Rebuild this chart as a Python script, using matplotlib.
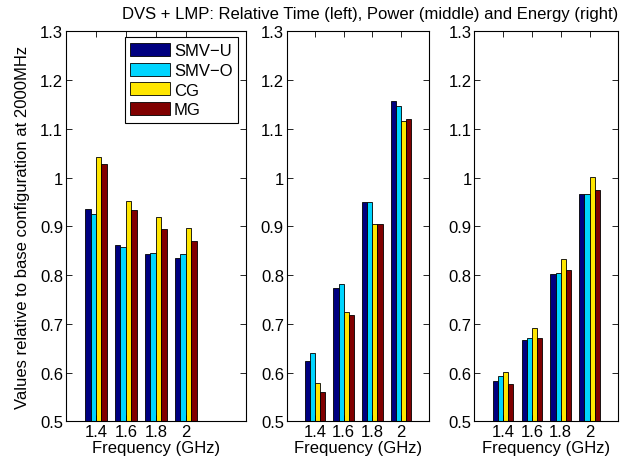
import numpy as np
import matplotlib
matplotlib.use('Agg')
import matplotlib.pyplot as plt

plt.rcParams['font.family'] = ['Liberation Sans', 'DejaVu Sans']
plt.rcParams['font.size'] = 12

freqs = ['1.4', '1.6', '1.8', '2']
series = ['SMV\u2212U', 'SMV\u2212O', 'CG', 'MG']

# relative time, power, energy per benchmark (rows follow freqs)
time_smvu = [0.935, 0.862, 0.844, 0.834]
time_smvo = [0.925, 0.857, 0.846, 0.844]
time_cg = [1.043, 0.952, 0.919, 0.896]
time_mg = [1.027, 0.934, 0.895, 0.869]

power_smvu = [0.623, 0.773, 0.950, 1.158]
power_smvo = [0.640, 0.782, 0.949, 1.146]
power_cg = [0.578, 0.725, 0.905, 1.116]
power_mg = [0.561, 0.719, 0.905, 1.120]

energy_smvu = [0.583, 0.667, 0.803, 0.967]
energy_smvo = [0.592, 0.671, 0.805, 0.967]
energy_cg = [0.602, 0.691, 0.833, 1.002]
energy_mg = [0.577, 0.671, 0.811, 0.974]

panels = [
    [time_smvu, time_smvo, time_cg, time_mg],
    [power_smvu, power_smvo, power_cg, power_mg],
    [energy_smvu, energy_smvo, energy_cg, energy_mg],
]

colors = plt.cm.jet(np.linspace(0, 1, 4))

fig = plt.figure(figsize=(6.26, 4.64), dpi=100)
positions = [
    [0.1054, 0.0899, 0.287, 0.8405],
    [0.458, 0.0899, 0.2278, 0.8405],
    [0.7577, 0.0899, 0.230, 0.8405],
]
xlims = [(0, 6), (0, 5), (0, 5)]

x = np.arange(1, len(freqs) + 1)
bw = 0.18
offsets = [-1.5 * bw, -0.5 * bw, 0.5 * bw, 1.5 * bw]

axes = []
for i, data in enumerate(panels):
    ax = fig.add_axes(positions[i])
    for j, vals in enumerate(data):
        ax.bar(x + offsets[j], np.array(vals) - 0.5, bw, bottom=0.5,
               color=colors[j], edgecolor='black', linewidth=0.6,
               label=series[j])
    ax.set_xlim(*xlims[i])
    ax.set_ylim(0.5, 1.3)
    ax.set_xticks(x)
    ax.set_xticklabels(freqs)
    ax.set_yticks(np.arange(0.5, 1.31, 0.1))
    ax.set_yticklabels(['0.5', '0.6', '0.7', '0.8', '0.9', '1', '1.1', '1.2', '1.3'])
    ax.tick_params(direction='in', top=True, right=True, length=4.5, width=0.6, pad=2)
    for s in ax.spines.values():
        s.set_linewidth(0.8)
    ax.set_xlabel('Frequency (GHz)', labelpad=1)
    axes.append(ax)

axes[0].set_ylabel('Values relative to base configuration at 2000MHz', labelpad=7)

leg = axes[0].legend(loc='upper right', bbox_to_anchor=(0.959, 0.985),
                     borderaxespad=0, fancybox=False, edgecolor='black',
                     framealpha=1, handlelength=2.4, handleheight=0.85,
                     handletextpad=0.2, labelspacing=0.25, borderpad=0.35,
                     fontsize=12)
leg.get_frame().set_linewidth(0.8)

fig.text(370 / 626, 1 - 14 / 464,
         'DVS + LMP: Relative Time (left), Power (middle) and Energy (right)',
         ha='center', va='center', fontsize=12)

fig.savefig('out.png', dpi=100)
